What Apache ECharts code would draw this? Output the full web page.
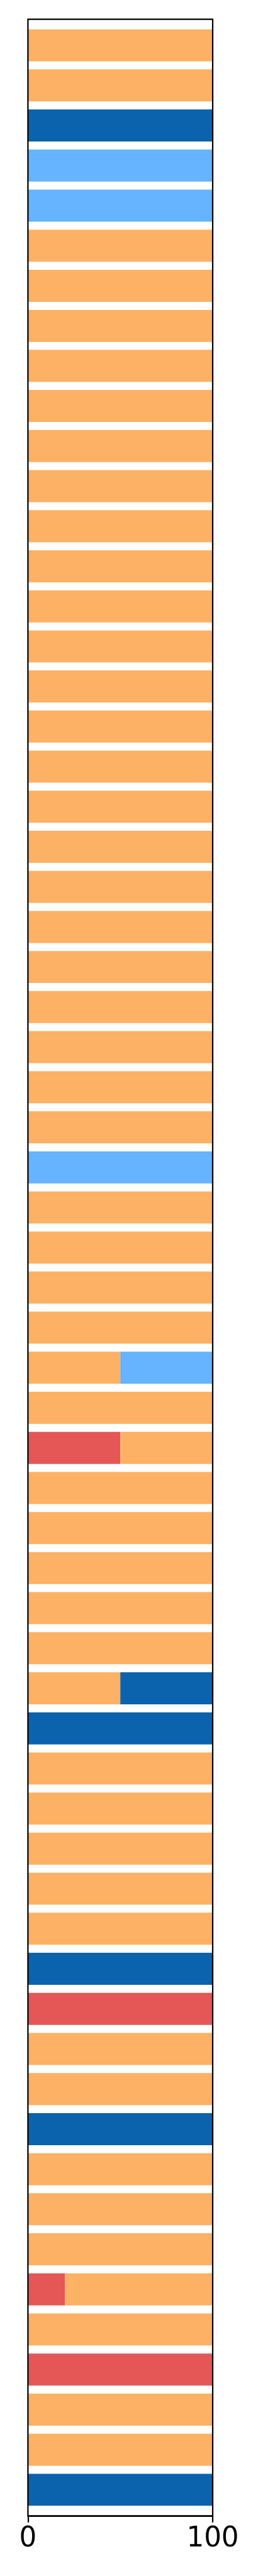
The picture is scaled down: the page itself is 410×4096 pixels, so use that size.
<!DOCTYPE html>
<html>
<head>
<meta charset="utf-8">
<script src="https://cdn.jsdelivr.net/npm/echarts@6/dist/echarts.min.js"></script>
<style>
html, body { margin: 0; padding: 0; background: #fff; }
#chart { width: 410px; height: 4096px; }
</style>
</head>
<body>
<div id="chart"></div>
<script>
// Row index 0 is the top bar; 62 rows, each stacked to 100.
const rows = Array.from({length: 62}, (_, i) => i);
const xTicks = [0, 100];

const redVals = [
  0,0,0,0,0,0,0,0,0,0,
  0,0,0,0,0,0,0,0,0,0,
  0,0,0,0,0,0,0,0,0,0,
  0,0,0,0,0,50,0,0,0,0,
  0,0,0,0,0,0,0,0,0,100,
  0,0,0,0,0,0,20,0,100,0,
  0,0
];
const orangeVals = [
  100,100,0,0,0,100,100,100,100,100,
  100,100,100,100,100,100,100,100,100,100,
  100,100,100,100,100,100,100,100,0,100,
  100,100,100,50,100,50,100,100,100,100,
  100,50,0,100,100,100,100,100,0,0,
  100,100,0,100,100,100,80,100,0,100,
  100,0
];
const lightBlueVals = [
  0,0,0,100,100,0,0,0,0,0,
  0,0,0,0,0,0,0,0,0,0,
  0,0,0,0,0,0,0,0,100,0,
  0,0,0,50,0,0,0,0,0,0,
  0,0,0,0,0,0,0,0,0,0,
  0,0,0,0,0,0,0,0,0,0,
  0,0
];
const darkBlueVals = [
  0,0,100,0,0,0,0,0,0,0,
  0,0,0,0,0,0,0,0,0,0,
  0,0,0,0,0,0,0,0,0,0,
  0,0,0,0,0,0,0,0,0,0,
  0,50,100,0,0,0,0,0,100,0,
  0,0,100,0,0,0,0,0,0,0,
  0,100
];

const seriesDefs = [
  {name: 'red', vals: redVals, color: '#e45756'},
  {name: 'orange', vals: orangeVals, color: '#fdb164'},
  {name: 'lightblue', vals: lightBlueVals, color: '#66b3ff'},
  {name: 'darkblue', vals: darkBlueVals, color: '#0b63ad'}
];

const cum = rows.map(() => 0);
const series = seriesDefs.map(def => {
  const data = [];
  rows.forEach((r, i) => {
    const v = def.vals[i];
    if (v > 0) {
      data.push([r, cum[i], cum[i] + v]);
      cum[i] += v;
    }
  });
  return {
    type: 'custom',
    name: def.name,
    data: data,
    encode: {x: [1, 2], y: 0},
    renderItem: function (params, api) {
      const y = api.value(0);
      const p0 = api.coord([api.value(1), y]);
      const p1 = api.coord([api.value(2), y]);
      const h = api.size([0, 0.8])[1];
      return {
        type: 'rect',
        shape: {x: p0[0], y: p0[1] - h / 2, width: p1[0] - p0[0], height: h},
        style: {fill: def.color}
      };
    },
    z: 2
  };
});

const chart = echarts.init(document.getElementById('chart'), null, {renderer: 'canvas'});
chart.setOption({
  animation: false,
  backgroundColor: '#ffffff',
  grid: {
    left: 44.4, top: 30.7, width: 293.6, height: 3969.6,
    show: true, borderColor: '#000000', borderWidth: 2.2,
    backgroundColor: 'transparent', z: 10
  },
  xAxis: {
    type: 'value',
    position: 'bottom',
    min: xTicks[0], max: xTicks[xTicks.length - 1], interval: 100,
    z: 10,
    axisLine: {show: true, onZero: false, lineStyle: {color: '#000', width: 2.2}},
    axisTick: {show: true, length: 10.6, lineStyle: {color: '#000', width: 2.2}},
    axisLabel: {
      show: true, margin: 15, fontSize: 43.6, color: '#000',
      fontFamily: 'DejaVu Sans',
      formatter: v => String(v)
    },
    splitLine: {show: false}
  },
  yAxis: {
    type: 'value',
    min: -0.65, max: rows.length - 1 + 0.65,
    inverse: true,
    axisLine: {show: false, onZero: false},
    axisTick: {show: false},
    axisLabel: {show: false},
    splitLine: {show: false}
  },
  series: series
});
</script>
</body>
</html>
